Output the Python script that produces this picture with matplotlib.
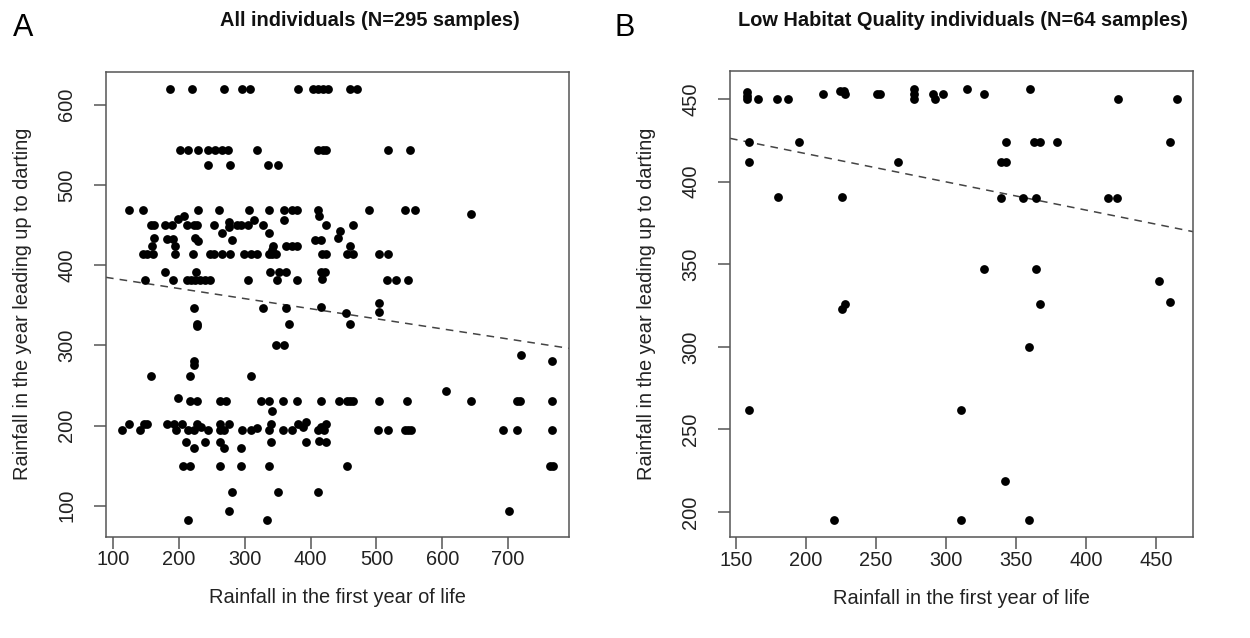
import matplotlib
matplotlib.use('Agg')
import matplotlib.pyplot as plt

plt.rcParams['font.family'] = ['Liberation Sans', 'DejaVu Sans']

# panel A - all individuals
left_x = [
    187, 220, 268, 296, 308, 381, 404, 411, 419, 427, 460, 471,
    202, 214, 229, 244, 254, 265, 275, 318, 411, 419, 423, 518, 551,
    244, 278, 335, 350,
    124, 145, 229, 261, 307, 337, 359, 372, 379, 411, 489, 543, 558, 644,
    198, 208, 314, 359, 412,
    157, 162, 179, 189, 212, 222, 228, 253, 276, 276, 288, 294, 305, 327, 423, 464,
    266, 336, 444,
    162, 182, 191, 224, 229, 281, 406, 415, 442,
    159, 194, 343, 363, 371, 379, 460,
    145, 152, 160, 194, 221, 247, 253, 266, 278, 298, 310, 318, 337, 342, 342, 348,
    417, 424, 455, 465, 504, 518,
    179, 226, 338, 352, 363, 415, 422, 418,
    148, 191, 212, 218, 224, 232, 239, 247, 305, 349, 379, 516, 530, 548,
    223, 327, 363, 415, 453, 504, 504,
    227, 227, 367, 460,
    347, 359, 222, 222,
    158, 217, 310,
    605, 719, 767, 342,
    198, 216, 228, 262, 272, 325, 337, 358, 380, 415, 443, 455, 460, 465, 504, 547,
    644, 713, 718, 767,
    114, 124, 141, 146, 151, 182, 192, 195, 204, 213, 222, 228, 234, 244, 262, 262,
    269, 276, 296, 310, 319, 337, 339, 358, 372, 381, 389, 393, 411, 415, 421, 424,
    502, 518, 543, 548, 553, 692, 713, 767,
    211, 239, 262, 339, 393, 413, 424,
    222, 268, 294,
    206, 216, 262, 294, 337, 456, 763, 768,
    280, 351, 411, 276, 702, 213, 334,
]
left_y = [
    620, 620, 620, 620, 620, 620, 620, 620, 620, 620, 620, 620,
    544, 544, 544, 544, 544, 544, 544, 544, 544, 544, 544, 544, 544,
    525, 525, 525, 525,
    469, 469, 469, 469, 469, 469, 469, 469, 469, 469, 469, 469, 469, 464,
    458, 461, 456, 456, 461,
    450, 450, 450, 450, 450, 450, 450, 450, 454, 447, 450, 450, 450, 450, 450, 450,
    440, 440, 442,
    434, 432, 432, 434, 430, 431, 431, 431, 434,
    424, 424, 424, 424, 424, 424, 424,
    414, 414, 414, 414, 414, 414, 414, 414, 414, 414, 414, 414, 414, 414, 419, 414,
    414, 414, 414, 414, 414, 414,
    391, 391, 391, 391, 391, 391, 391, 383,
    381, 381, 381, 381, 381, 381, 381, 381, 381, 381, 381, 381, 381, 381,
    347, 347, 347, 348, 340, 353, 341,
    324, 327, 326, 326,
    300, 300, 280, 275,
    262, 262, 262,
    243, 288, 280, 218,
    234, 231, 231, 231, 231, 231, 231, 231, 231, 231, 231, 231, 231, 231, 231, 231,
    231, 231, 231, 231,
    195, 202, 195, 202, 202, 202, 202, 195, 202, 195, 195, 202, 198, 195, 202, 195,
    195, 202, 195, 195, 197, 195, 202, 195, 195, 202, 198, 204, 195, 198, 195, 202,
    195, 195, 195, 195, 195, 195, 195, 195,
    179, 179, 179, 179, 179, 181, 179,
    172, 172, 172,
    149, 149, 149, 149, 149, 149, 149, 149,
    117, 117, 117, 94, 94, 82, 82,
]

# panel B - low habitat quality individuals
right_x = [
    158, 158, 158, 166, 179, 187, 212, 224, 227, 228, 251, 253, 277, 277, 277, 291,
    292, 298, 315, 327, 360, 423, 465,
    159, 195, 343, 363, 367, 379, 460,
    159, 266, 339, 343,
    180, 226, 339, 355, 364, 416, 422,
    327, 364, 452, 228, 226, 367, 460,
    359, 159, 311, 342, 220, 311, 359,
]
right_y = [
    454, 452, 450, 450, 450, 450, 453, 455, 455, 453, 453, 453, 456, 453, 450, 453,
    450, 453, 456, 453, 456, 450, 450,
    424, 424, 424, 424, 424, 424, 424,
    412, 412, 412, 412,
    391, 391, 390, 390, 390, 390, 390,
    347, 347, 340, 326, 323, 326, 327,
    300, 262, 262, 219, 195, 195, 195,
]

# fitted lines (intercept, slope) as drawn in the figure
left_fit = (395.9, -0.1257)
right_fit = (451.1, -0.1707)

left_xticks = [100, 200, 300, 400, 500, 600, 700]
left_yticks = [100, 200, 300, 400, 500, 600]
right_xticks = [150, 200, 250, 300, 350, 400, 450]
right_yticks = [200, 250, 300, 350, 400, 450]

xlab = 'Rainfall in the first year of life'
ylab = 'Rainfall in the year leading up to darting'

fig = plt.figure(figsize=(12.5, 6.38), dpi=100)
ax1 = fig.add_axes([0.0848, 0.1588, 0.3706, 0.7288])
ax2 = fig.add_axes([0.584, 0.1578, 0.3706, 0.7309])


def style(ax, xs, ys, fit, xt, yt, xlim, ylim):
    ax.scatter(xs, ys, s=40, color='black', linewidths=0, zorder=3)
    ax.axline((0, fit[0]), slope=fit[1], color='#444444', lw=1.1,
              linestyle=(0, (5, 4)), zorder=2)
    ax.set_xlim(*xlim)
    ax.set_ylim(*ylim)
    ax.set_xticks(xt)
    ax.set_yticks(yt)
    for sp in ax.spines.values():
        sp.set_color('#555555')
        sp.set_linewidth(1.1)
    ax.tick_params(length=8.8, width=1.1, color='#555555', labelsize=14.4,
                   labelcolor='#222222')
    ax.tick_params(axis='x', pad=1)
    ax.tick_params(axis='y', pad=12.5)
    for lab in ax.get_yticklabels():
        lab.set_rotation(90)
        lab.set_va('center')
    ax.set_xlabel(xlab, fontsize=14.4, color='#222222')
    ax.set_ylabel(ylab, fontsize=14.4, color='#222222')
    ax.xaxis.set_label_coords(0.5, -0.11)
    ax.yaxis.set_label_coords(-0.16, 0.5)


style(ax1, left_x, left_y, left_fit, left_xticks, left_yticks, (89, 793), (61.5, 641))
style(ax2, right_x, right_y, right_fit, right_xticks, right_yticks, (145.7, 476.7), (184.7, 467))

fig.text(370 / 1250, 1 - 20 / 638, 'All individuals (N=295 samples)', ha='center',
         va='center', fontsize=14.4, fontweight='bold', color='#111111')
fig.text(963 / 1250, 1 - 20 / 638, 'Low Habitat Quality individuals (N=64 samples)',
         ha='center', va='center', fontsize=14.4, fontweight='bold', color='#111111')
fig.text(23 / 1250, 1 - 28 / 638, 'A', ha='center', va='center', fontsize=22)
fig.text(625 / 1250, 1 - 28 / 638, 'B', ha='center', va='center', fontsize=22)

fig.savefig('out.png', dpi=100, facecolor='white')
